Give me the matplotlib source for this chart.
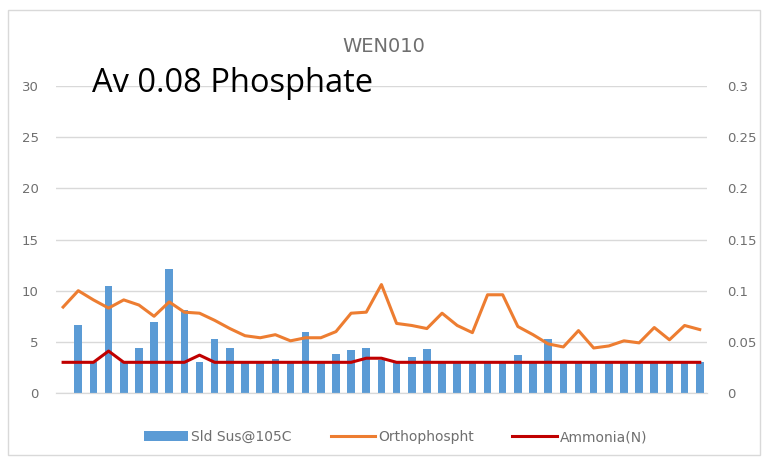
import matplotlib
matplotlib.use("Agg")
import matplotlib.pyplot as plt
import numpy as np
from matplotlib.patches import Rectangle

# --- data ---
n_samples = 43
sld_sus = [0, 6.6, 3, 10.5, 3, 4.4, 6.9, 12.1, 8.1, 3,
           5.3, 4.4, 3, 3, 3.3, 3, 6.0, 3, 3.8, 4.2,
           4.4, 3.2, 3, 3.5, 4.3, 3, 3, 3, 3, 3,
           3.7, 3, 5.3, 3, 3, 3, 3, 3, 3, 3,
           3, 3, 3]
orthophos = [0.084, 0.100, 0.091, 0.083, 0.091, 0.086, 0.075, 0.089, 0.079, 0.078,
             0.071, 0.063, 0.056, 0.054, 0.057, 0.051, 0.054, 0.054, 0.060, 0.078,
             0.079, 0.106, 0.068, 0.066, 0.063, 0.078, 0.066, 0.059, 0.096, 0.096,
             0.065, 0.057, 0.048, 0.045, 0.061, 0.044, 0.046, 0.051, 0.049, 0.064,
             0.052, 0.066, 0.062]
ammonia = [0.03, 0.03, 0.03, 0.041, 0.03, 0.03, 0.03, 0.03, 0.03, 0.037,
           0.03, 0.03, 0.03, 0.03, 0.03, 0.03, 0.03, 0.03, 0.03, 0.03,
           0.034, 0.034, 0.03, 0.03, 0.03, 0.03, 0.03, 0.03, 0.03, 0.03,
           0.03, 0.03, 0.03, 0.03, 0.03, 0.03, 0.03, 0.03, 0.03, 0.03,
           0.03, 0.03, 0.03]
left_ticks = [0, 5, 10, 15, 20, 25, 30]
right_ticks = [0, 0.05, 0.1, 0.15, 0.2, 0.25, 0.3]
right_labels = ["0", "0.05", "0.1", "0.15", "0.2", "0.25", "0.3"]

GREY = "#6f6f6f"
x = np.arange(n_samples)

fig = plt.figure(figsize=(7.68, 4.65), dpi=100)
ax = fig.add_axes([0.0723, 0.1548, 0.8487, 0.6602])
ax2 = ax.twinx()

bars = ax.bar(x, sld_sus, width=0.5, color="#5B9BD5", label="Sld Sus@105C", zorder=2)
l1, = ax2.plot(x, orthophos, color="#ED7D31", lw=2.2, label="Orthophospht", zorder=3)
l2, = ax2.plot(x, ammonia, color="#C00000", lw=2.2, label="Ammonia(N)", zorder=4)

ax.set_xlim(-0.5, n_samples - 0.5)
ax.set_ylim(0, 30)
ax2.set_ylim(0, 0.3)
ax.set_yticks(left_ticks)
ax2.set_yticks(right_ticks)
ax2.set_yticklabels(right_labels)
ax.set_xticks([])
ax.grid(axis="y", color="#D9D9D9", lw=1, zorder=0)
ax.set_axisbelow(True)

for a in (ax, ax2):
    for side in ("top", "left", "right"):
        a.spines[side].set_visible(False)
    a.spines["bottom"].set_color("#D9D9D9")
    a.tick_params(axis="y", length=0, labelsize=9.5, colors=GREY)
ax.tick_params(axis="y", pad=12)
ax2.tick_params(axis="y", pad=14)

fig.text(0.5, 0.901, "WEN010", ha="center", va="center", fontsize=14, color=GREY)
fig.text(92 / 768, 1 - 83 / 465, "Av 0.08 Phosphate", ha="left", va="center",
         fontsize=23.5, color="black", family="Open Sans")

fig.legend(handles=[bars, l1, l2], loc="center", bbox_to_anchor=(0.515, 1 - 437 / 465),
           ncol=3, frameon=False, fontsize=10, labelcolor=GREY,
           handlelength=3.2, handletextpad=0.2, columnspacing=2.8)

fig.patches.append(Rectangle((8 / 768, 10 / 465), 752 / 768, 445 / 465,
                             transform=fig.transFigure, fill=False,
                             edgecolor="#D9D9D9", lw=1))

fig.savefig("out.png", dpi=100)
